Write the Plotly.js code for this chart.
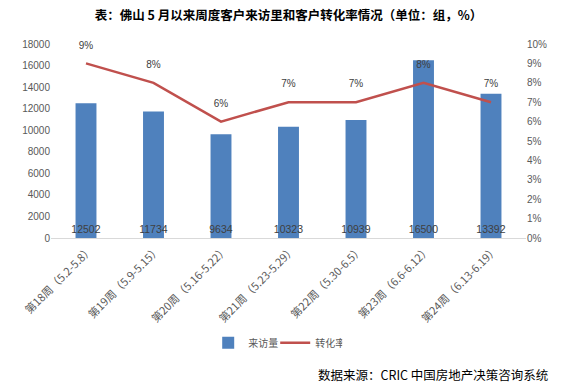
<!DOCTYPE html>
<html><head><meta charset="utf-8">
<script src="https://cdn.plot.ly/plotly-3.0.1.min.js"></script>
<style>html,body{margin:0;padding:0;background:#fff;}#chart{width:565px;height:388px;}</style>
</head><body><div id="chart"></div>
<script>
const categories = ["第18周（5.2-5.8）","第19周（5.9-5.15）","第20周（5.16-5.22）","第21周（5.23-5.29）","第22周（5.30-6.5）","第23周（6.6-6.12）","第24周（6.13-6.19）"];
const visits = [12502, 11734, 9634, 10323, 10939, 16500, 13392];
const rates = [0.09, 0.08, 0.06, 0.07, 0.07, 0.08, 0.07];
const leftTicks = [0,2000,4000,6000,8000,10000,12000,14000,16000,18000];
const rightTicks = [0,0.01,0.02,0.03,0.04,0.05,0.06,0.07,0.08,0.09,0.10];

const cjk = '"Microsoft YaHei","Noto Sans CJK SC",sans-serif';
const lat = '"Liberation Sans",Arial,sans-serif';
const traces = [
  {type:'bar', name:'来访量', x:categories, y:visits,
   marker:{color:'#4F81BD'}, text:visits.map(String),
   textposition:'inside', insidetextanchor:'start', constraintext:'none', textangle:0,
   textfont:{family:lat, size:10.5, color:'#404040'}, cliponaxis:false,
   hoverinfo:'skip'},
  {type:'scatter', mode:'lines+markers+text', name:'转化率', x:categories, y:rates, yaxis:'y2',
   line:{color:'#C0504D', width:2.5}, marker:{size:18, color:'rgba(0,0,0,0)'},
   text:rates.map(v=>Math.round(v*100)+'%'), cliponaxis:false,
   textposition:'top center',
   textfont:{family:lat, size:10, color:'#404040'}}
];
const layout = {
  width:565, height:388,
  margin:{l:50.5, r:38.5, t:44, b:150},
  paper_bgcolor:'#fff', plot_bgcolor:'#fff',
  bargap:0.69,
  showlegend:true,
  legend:{orientation:'h', x:0.472, xanchor:'center', y:-0.54, yanchor:'middle',
    font:{family:cjk, size:10, color:'#595959'}, traceorder:'normal', itemwidth:30,
    entrywidth:22, entrywidthmode:'pixels', tracegroupgap:0},
  title:{text:'<b>表：佛山 5 月以来周度客户来访里和客户转化率情况（单位：组，%）</b>',
    x:0.5, xanchor:'center', y:0.96, yanchor:'middle', xref:'paper',
    font:{family:'"Noto Sans CJK SC",sans-serif', size:12.5, color:'#000'}},
  xaxis:{type:'category', showline:true, linecolor:'#D9D9D9', linewidth:1, automargin:false,
    ticks:'', tickangle:-45, showgrid:false, ticklabelshift:4,
    tickfont:{family:cjk, size:11, color:'#595959'}},
  yaxis:{range:[0,18000], tickvals:leftTicks, ticktext:leftTicks.map(String), automargin:false,
    showgrid:false, zeroline:false, showline:false, ticks:'',
    tickfont:{family:lat, size:10, color:'#595959'}},
  yaxis2:{range:[0,0.10], overlaying:'y', side:'right', tickvals:rightTicks, automargin:false,
    ticktext:rightTicks.map(v=>Math.round(v*100)+'%'),
    showgrid:false, zeroline:false, showline:false, ticks:'',
    tickfont:{family:lat, size:10, color:'#595959'}},
  annotations:[{text:'数据来源：CRIC 中国房地产决策咨询系统', xref:'paper', yref:'paper',
    x:1.051, xanchor:'right', y:-0.706, yanchor:'middle', showarrow:false,
    font:{family:'"Noto Sans CJK SC",sans-serif', size:12.5, color:'#000'}}]
};
Plotly.newPlot('chart', traces, layout, {displayModeBar:false, staticPlot:true});
</script></body></html>
